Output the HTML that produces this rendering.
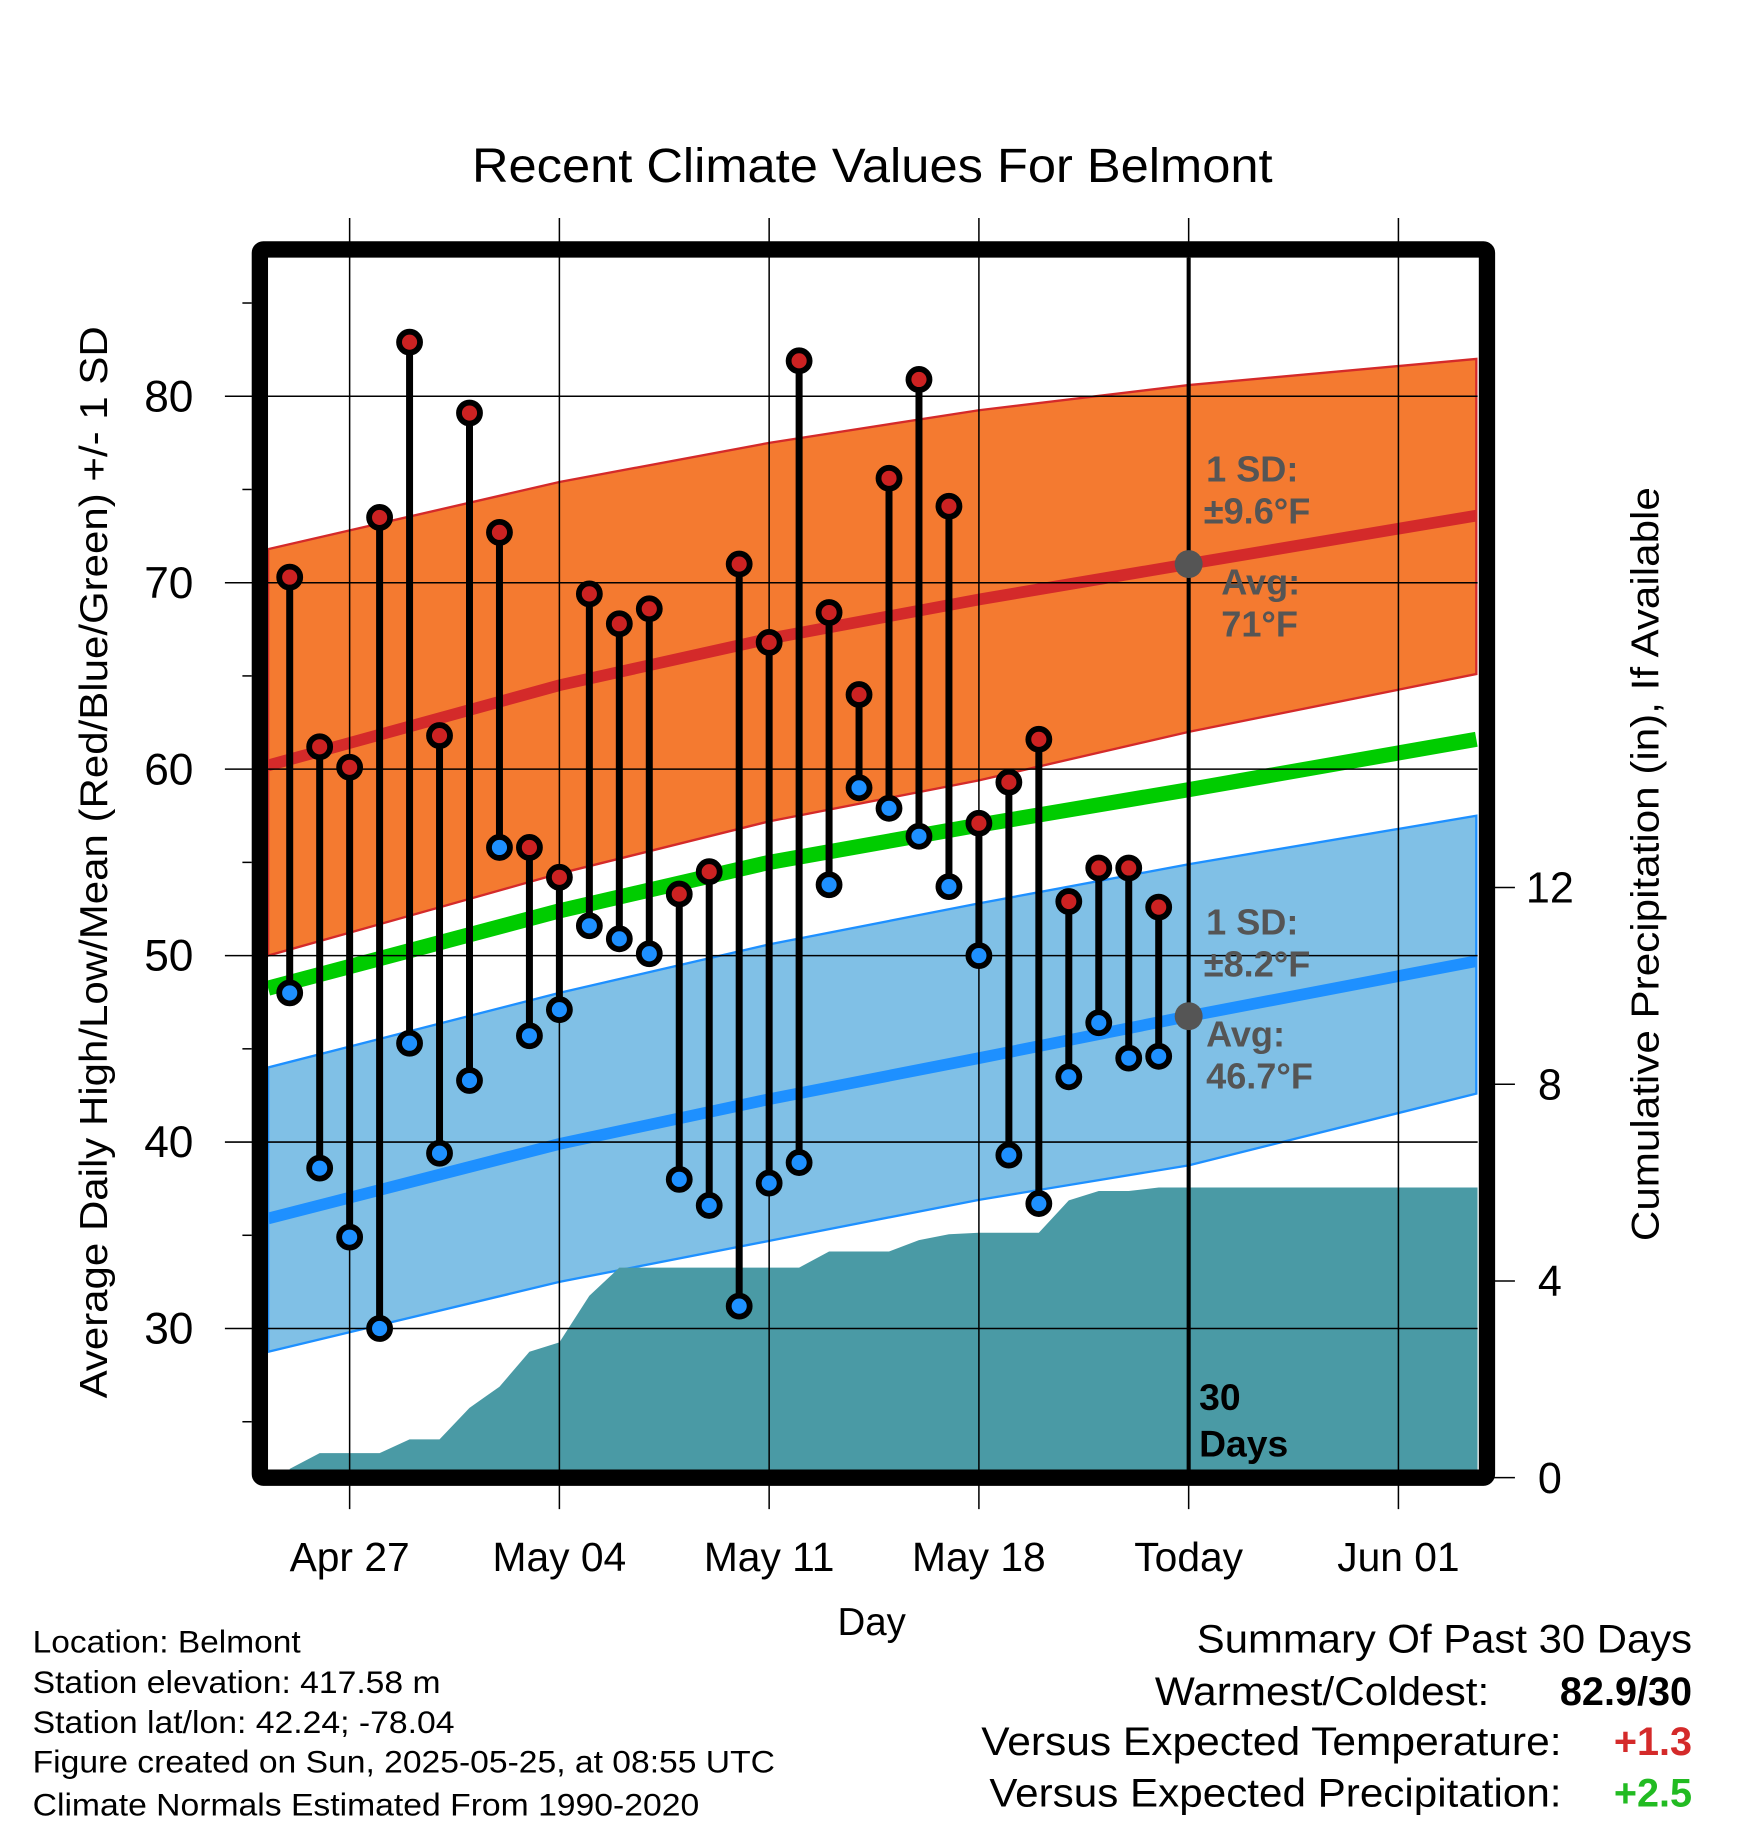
<!DOCTYPE html>
<html><head><meta charset="utf-8"><style>body{margin:0;background:#fff}svg{display:block}</style></head>
<body>
<svg id="chart" xmlns="http://www.w3.org/2000/svg" width="1748" height="1828" viewBox="0 0 1500 1568.6" font-family="Liberation Sans, sans-serif">
<rect width="1500" height="1568.6" fill="#fff"/>
<text x="405" y="156" font-size="41" textLength="687" lengthAdjust="spacingAndGlyphs">Recent Climate Values For Belmont</text>
<g id="g"></g>
<text transform="translate(92,1200) rotate(-90)" font-size="33" textLength="920" lengthAdjust="spacingAndGlyphs">Average Daily High/Low/Mean (Red/Blue/Green) +/- 1 SD</text>
<text transform="translate(1423,1065) rotate(-90)" font-size="33" textLength="647" lengthAdjust="spacingAndGlyphs">Cumulative Precipitation (in), If Available</text>
<text x="748" y="1403" font-size="33" text-anchor="middle">Day</text>
<g font-size="27" lengthAdjust="spacingAndGlyphs">
<text x="28" y="1418" textLength="230" lengthAdjust="spacingAndGlyphs">Location: Belmont</text>
<text x="28" y="1453" textLength="350" lengthAdjust="spacingAndGlyphs">Station elevation: 417.58 m</text>
<text x="28" y="1487" textLength="362" lengthAdjust="spacingAndGlyphs">Station lat/lon: 42.24; -78.04</text>
<text x="28" y="1521" textLength="637" lengthAdjust="spacingAndGlyphs">Figure created on Sun, 2025-05-25, at 08:55 UTC</text>
<text x="28" y="1558" textLength="572" lengthAdjust="spacingAndGlyphs">Climate Normals Estimated From 1990-2020</text>
</g>
<g font-size="34">
<text x="1027" y="1418" textLength="425" lengthAdjust="spacingAndGlyphs">Summary Of Past 30 Days</text>
<text x="991" y="1463" textLength="287" lengthAdjust="spacingAndGlyphs">Warmest/Coldest:</text>
<text x="1452" y="1463" font-weight="bold" text-anchor="end">82.9/30</text>
<text x="842" y="1506" textLength="498" lengthAdjust="spacingAndGlyphs">Versus Expected Temperature:</text>
<text x="1452" y="1506" font-weight="bold" fill="#d42a2a" text-anchor="end">+1.3</text>
<text x="849" y="1550" textLength="491" lengthAdjust="spacingAndGlyphs">Versus Expected Precipitation:</text>
<text x="1452" y="1550" font-weight="bold" fill="#22bb22" text-anchor="end">+2.5</text>
</g>
</svg>
<script>
const highs=[70.3,61.2,60.1,73.5,82.9,61.8,79.1,72.7,55.8,54.2,69.4,67.8,68.6,53.3,54.5,71.0,66.8,81.9,68.4,64.0,75.6,80.9,74.1,57.1,59.3,61.6,52.9,54.7,54.7,52.6];
const lows=[48.0,38.6,34.9,30.0,45.3,39.4,43.3,55.8,45.7,47.1,51.6,50.9,50.1,38.0,36.6,31.2,37.8,38.9,53.8,59.0,57.9,56.4,53.7,50.0,39.3,36.7,43.5,46.4,44.5,44.6];
const precip=[0.18,0.5,0.5,0.5,0.78,0.78,1.42,1.85,2.56,2.75,3.7,4.27,4.27,4.27,4.27,4.27,4.27,4.27,4.6,4.6,4.6,4.83,4.95,4.98,4.98,4.98,5.64,5.83,5.83,5.9];
const normDays=[0.28,10,17,24,31,40.6];
const highUpper=[71.8,75.4,77.5,79.25,80.6,82.0];
const highMean=[60.2,64.5,67.0,69.1,71.0,73.6];
const highLower=[50.0,54.4,57.2,59.4,62.0,65.1];
const meanMean=[48.25,52.4,55.0,57.0,58.9,61.6];
const lowUpper=[44.0,48.0,50.6,52.8,54.9,57.5];
const lowMean=[35.9,39.9,42.3,44.5,46.75,49.7];
const lowLower=[28.75,32.5,34.7,36.9,38.75,42.6];
const yTicks=[30,40,50,60,70,80];
const y2Ticks=[0,4,8,12];
const xTickDays=[3,10,17,24,31,38];
const xTickLabels=["Apr 27","May 04","May 11","May 18","Today","Jun 01"];
const X0=230,X1=1268,Y0=221,Y1=1261;
const xs=d=>248.6+(d-1)*25.714;
const ys=t=>340+(80-t)*16;
const yp=p=>1268-p*42.2;
const NS="http://www.w3.org/2000/svg";
const g=document.getElementById('g');
function mk(t,a,parent){const e=document.createElementNS(NS,t);for(const k in a)e.setAttribute(k,a[k]);(parent||g).appendChild(e);return e;}
const clip=mk('clipPath',{id:'cp'});mk('rect',{x:X0,y:Y0,width:X1-X0,height:Y1-Y0},clip);
const pg=mk('g',{'clip-path':'url(#cp)'});
function line(arr){return normDays.map((d,i)=>xs(d)+','+ys(arr[i])).join(' ');}
function band(up,lo){return line(up)+' '+normDays.map((d,i)=>xs(d)+','+ys(lo[i])).reverse().join(' ');}
let e;
e=mk('polygon',{points:band(highUpper,highLower),fill:'#f47a30',stroke:'#d42a2a','stroke-width':2},pg);

e=mk('polyline',{points:line(highMean),fill:'none',stroke:'#d42a2a','stroke-width':10},pg);

e=mk('polyline',{points:line(meanMean),fill:'none',stroke:'#00cc00','stroke-width':13},pg);

e=mk('polygon',{points:band(lowUpper,lowLower),fill:'#80c0e6',stroke:'#1e90ff','stroke-width':2},pg);

e=mk('polyline',{points:line(lowMean),fill:'none',stroke:'#1e90ff','stroke-width':10},pg);

let pts=precip.map((p,i)=>xs(i+1)+','+yp(p));
pts.push(X1+','+yp(precip[precip.length-1]));pts.push(X1+','+Y1);pts.push(xs(1)+','+Y1);
e=mk('polygon',{points:pts.join(' '),fill:'#4a9aa5'},pg);

yTicks.forEach(t=>{e=mk('line',{x1:193,x2:X1,y1:ys(t),y2:ys(t),stroke:'#000','stroke-width':1.3});

e=mk('text',{x:166,y:ys(t)+13,'font-size':38,'text-anchor':'end'});e.textContent=t;
});
for(let t=25;t<=85;t+=10){e=mk('line',{x1:208,x2:216,y1:ys(t),y2:ys(t),stroke:'#000','stroke-width':1.3});
}
xTickDays.forEach((d,i)=>{e=mk('line',{x1:xs(d),x2:xs(d),y1:187,y2:1295,stroke:'#000','stroke-width':1.3});

e=mk('text',{x:xs(d),y:1348,'font-size':35,'text-anchor':'middle'});e.textContent=xTickLabels[i];
});
y2Ticks.forEach(p=>{e=mk('line',{x1:1276,x2:1300,y1:yp(p),y2:yp(p),stroke:'#000','stroke-width':1.3});

e=mk('text',{x:1330,y:yp(p)+13,'font-size':37,'text-anchor':'middle'});e.textContent=p;
});
e=mk('line',{x1:xs(31),x2:xs(31),y1:Y0,y2:Y1,stroke:'#000','stroke-width':3.5});

highs.forEach((h,i)=>{const x=xs(i+1);
e=mk('line',{x1:x,x2:x,y1:ys(h),y2:ys(lows[i]),stroke:'#000','stroke-width':6});

e=mk('circle',{cx:x,cy:ys(h),r:9,fill:'#cc2222',stroke:'#000','stroke-width':5});

e=mk('circle',{cx:x,cy:ys(lows[i]),r:9,fill:'#1e90ff',stroke:'#000','stroke-width':5});
});
e=mk('circle',{cx:xs(31),cy:ys(highMean[4]),r:12,fill:'#555'});

e=mk('circle',{cx:xs(31),cy:ys(lowMean[4]),r:12,fill:'#555'});

[["1 SD:",1035,413],["±9.6°F",1033,449],["Avg:",1048,510],["71°F",1048,546],["1 SD:",1035,802],["±8.2°F",1033,838],["Avg:",1035,898],["46.7°F",1035,934]].forEach(a=>{
e=mk('text',{x:a[1],y:a[2],'font-size':31,'font-weight':'bold',fill:'#555'});e.textContent=a[0];
});
e=mk('text',{x:1029,y:1210,'font-size':32,'font-weight':'bold'});e.textContent='30';

e=mk('text',{x:1029,y:1250,'font-size':32,'font-weight':'bold'});e.textContent='Days';

e=mk('rect',{x:223,y:214,width:1053,height:1054,fill:'none',stroke:'#000','stroke-width':14,rx:3});

</script>
</body></html>
